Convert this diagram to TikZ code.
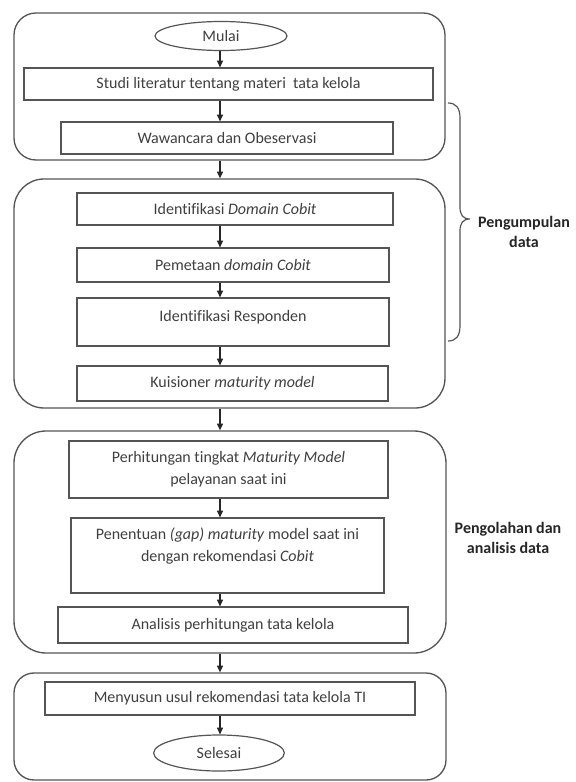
\documentclass[tikz,border=0pt]{standalone}
\usepackage{fontspec}
\setmainfont{Carlito}[Ligatures=NoCommon]
\usetikzlibrary{shapes.geometric,arrows.meta,fit}
\definecolor{ln}{HTML}{555555}
\definecolor{tx}{HTML}{404040}
\definecolor{lb}{HTML}{262626}
\begin{document}
\begin{tikzpicture}[x=0.75pt,y=-0.75pt,
  grp/.style={draw=ln, line width=1pt, inner sep=0pt},
  box/.style={draw=ln, line width=0.9pt, inner sep=0pt, text=tx, font=\fontsize{12}{16.5}\selectfont, align=center},
  txt/.style={text=tx, font=\fontsize{12}{16.5}\selectfont, align=center, inner sep=0pt},
  term/.style={ellipse, draw=ln, line width=0.9pt, inner sep=0pt, text=tx, font=\fontsize{12}{16.5}\selectfont},
  lbl/.style={text=lb, font=\bfseries\fontsize{12}{15}\selectfont, align=center, inner sep=0pt},
  arr/.style={draw=black!85, line width=0.8pt, -{Triangle[length=5pt,width=4.5pt]}}
]
\useasboundingbox[fill=white] (0,0) rectangle (575,782);

% groups
\node[grp, rounded corners=16.5pt, fit={(14,13) (445,160)}] (g1) {};
\node[grp, rounded corners=22.5pt, fit={(14,179) (445,408)}] (g2) {};
\node[grp, rounded corners=24pt, fit={(14,431) (446,653)}] (g3) {};
\node[grp, rounded corners=15pt, fit={(14,673) (446,780)}] (g4) {};

% group 1
\node[term, minimum width=99pt, minimum height=21.75pt] (mulai) at (221,36) {Mulai};
\node[box, minimum width=306.75pt, minimum height=24pt] (studi) at (228.5,84) {Studi literatur tentang materi~ tata kelola};
\node[box, minimum width=249pt, minimum height=24pt] (wawan) at (227,138) {Wawancara dan Obeservasi};

% group 2
\node[box, minimum width=237pt, minimum height=24pt] (idom) at (235,209) {Identifikasi \textit{Domain Cobit}};
\node[box, minimum width=234pt, minimum height=25.5pt] (pem) at (233,265) {Pemetaan \textit{domain Cobit}};
\node[box, minimum width=234pt, minimum height=36pt] (resp) at (233,322) {};
\node[txt] (respt) at (233,317) {Identifikasi Responden};
\node[box, minimum width=233.25pt, minimum height=26.25pt] (kuis) at (232.5,383.5) {Kuisioner \textit{maturity model}};

% group 3
\node[box, minimum width=239.25pt, minimum height=42.75pt] (hit) at (228.5,469.5) {Perhitungan tingkat \textit{Maturity Model}\\pelayanan saat ini};
\node[box, minimum width=234.75pt, minimum height=56.25pt] (pen) at (227.5,555.5) {};
\node[txt] (pent) at (227.5,546) {Penentuan \textit{(gap) maturity} model saat ini\\dengan rekomendasi \textit{Cobit}};
\node[box, minimum width=262.5pt, minimum height=27pt] (ana) at (233,625) {Analisis perhitungan tata kelola};

% group 4
\node[box, minimum width=277.5pt, minimum height=24.75pt] (usul) at (230,698.5) {Menyusun usul rekomendasi tata kelola TI};
\node[term, minimum width=98pt, minimum height=27pt] (selesai) at (219,753) {Selesai};

% arrows
\coordinate (ax) at (220,0);
\draw[arr] (mulai.south -| ax) -- (studi.north -| ax);
\draw[arr] (studi.south -| ax) -- (wawan.north -| ax);
\draw[arr] (g1.south -| ax) -- (g2.north -| ax);
\draw[arr] (idom.south -| ax) -- (pem.north -| ax);
\draw[arr] (pem.south -| ax) -- (resp.north -| ax);
\draw[arr] (resp.south -| ax) -- (kuis.north -| ax);
\draw[arr] (g2.south -| ax) -- (g3.north -| ax);
\draw[arr] (hit.south -| ax) -- (pen.north -| ax);
\draw[arr] (pen.south -| ax) -- (ana.north -| ax);
\draw[arr] (g3.south -| ax) -- (g4.north -| ax);
\draw[arr] (usul.south -| ax) -- (selesai.north -| ax);

% brace
\draw[ln, line width=0.9pt] (448,103) .. controls (456,103) and (460,108) .. (460,118)
  -- (460,207) .. controls (460,215) and (463,219) .. (470,219)
  .. controls (463,219) and (460,223) .. (460,231)
  -- (460,326) .. controls (460,336) and (456,341) .. (448,341);

% labels
\node[lbl] (lab1) at (524,232) {Pengumpulan\\data};
\node[lbl] (lab2) at (508,538) {Pengolahan dan\\analisis data};
\end{tikzpicture}
\end{document}
